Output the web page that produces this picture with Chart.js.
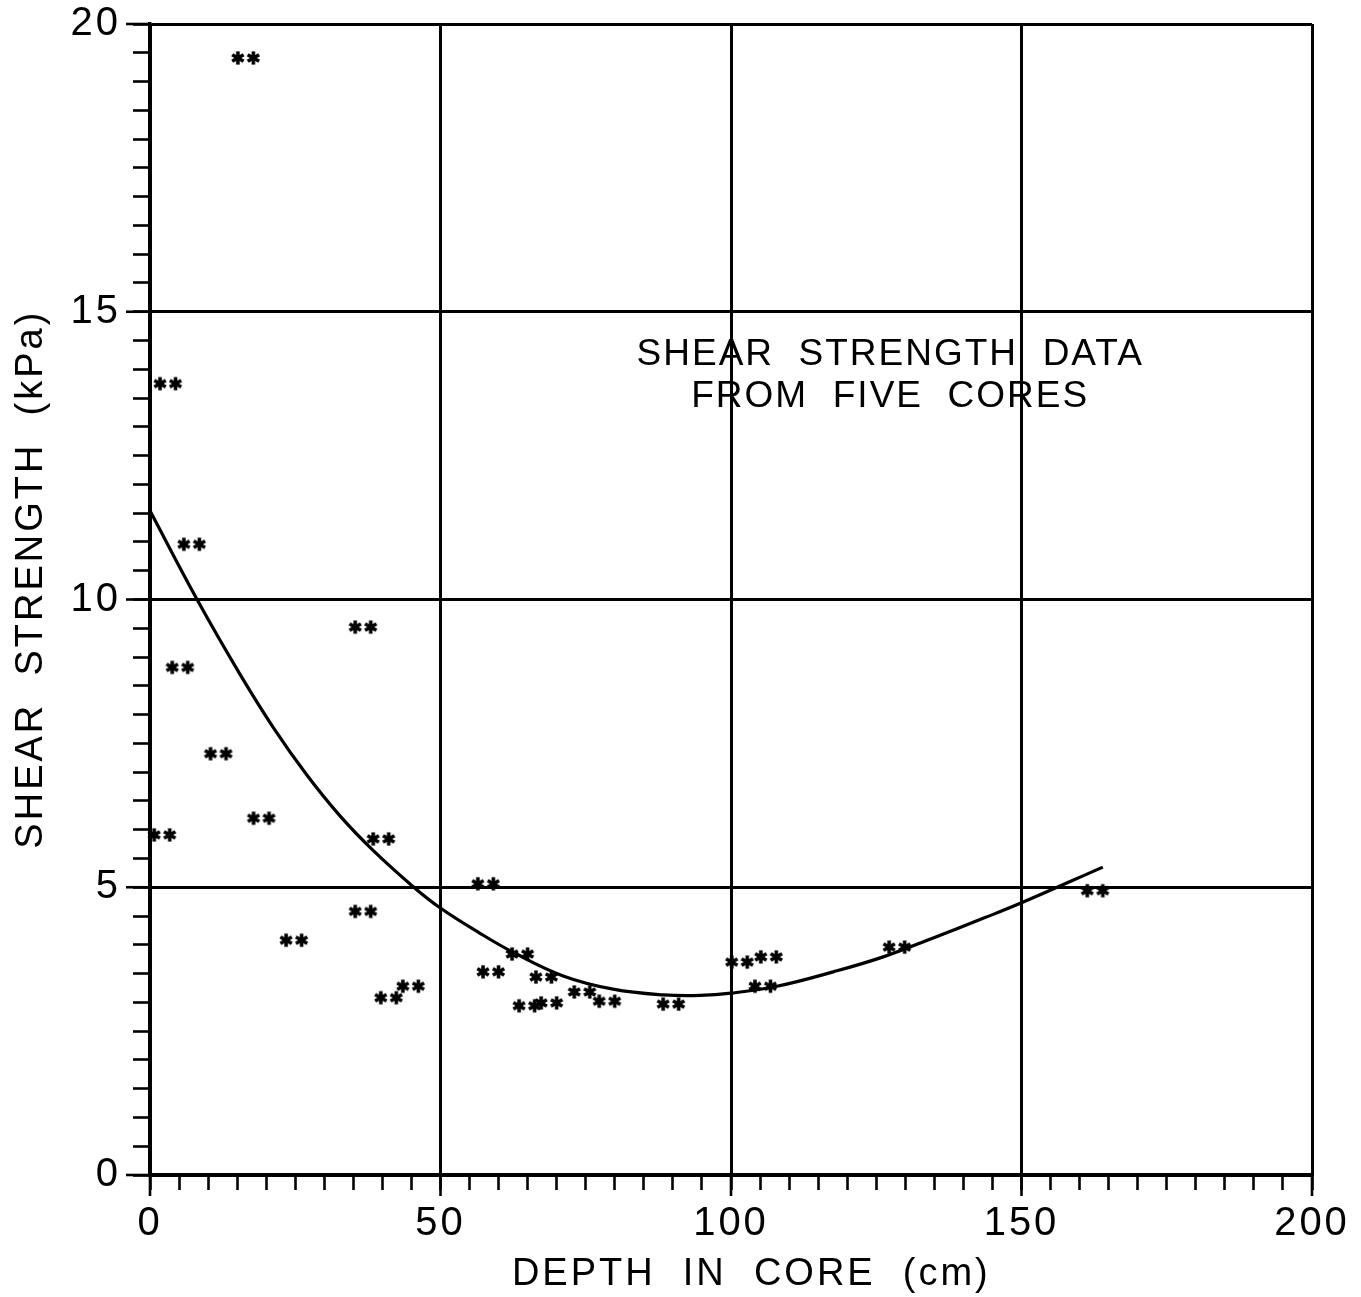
<!DOCTYPE html>
<html><head><meta charset="utf-8">
<script src="https://cdn.jsdelivr.net/npm/chart.js@4.4.1/dist/chart.umd.min.js"></script>
<style>html,body{margin:0;padding:0;background:#fff}#wrap{width:1361px;height:1297px}</style>
</head><body><div id="wrap"><canvas id="c" width="1361" height="1297"></canvas></div>
<script>
// ---- data ----
const depthCm  = [16.5, 3.1, 7.2, 5.2, 11.8, 2.1, 19.2, 36.7, 39.8, 36.7, 24.8, 41.1, 44.9, 57.8, 58.7, 63.7, 64.9, 68.7, 67.8, 74.4, 78.7, 89.7, 101.5, 106.5, 105.5, 128.6, 162.7];
const shearKPa = [19.41, 13.75, 10.96, 8.82, 7.32, 5.91, 6.20, 9.52, 5.84, 4.58, 4.08, 3.08, 3.28, 5.06, 3.53, 3.84, 2.94, 2.99, 3.44, 3.18, 3.02, 2.97, 3.70, 3.79, 3.28, 3.96, 4.94];
const fitDepthCm  = [0, 8.1, 15.5, 21.2, 27.0, 32.7, 38.4, 45.3, 50.1, 56.8, 62.5, 71.1, 79.7, 88.3, 94.7, 100, 107.9, 117.6, 126.2, 134.8, 143.4, 150, 164];
const fitShearKPa = [11.54, 10.0, 8.70, 7.78, 6.95, 6.24, 5.64, 5.01, 4.63, 4.20, 3.87, 3.46, 3.23, 3.13, 3.12, 3.16, 3.28, 3.53, 3.79, 4.12, 4.46, 4.73, 5.35];
const xTickLabels = ['0', '50', '100', '150', '200'];
const yTickLabels = ['0', '5', '10', '15', '20'];
const xTitle = '   DEPTH  IN  CORE  (cm)';
const yTitle = '   SHEAR  STRENGTH  (kPa)';
const noteLines = ['SHEAR  STRENGTH  DATA', 'FROM  FIVE  CORES'];
const noteAnchor = {x: 127.4, y: 14.25};

const FONT = "'Liberation Sans', Arial, Helvetica, sans-serif";
const isMult = (v, m) => Math.abs(v / m - Math.round(v / m)) < 1e-6;

// "**" marker
function makeMarker() {
  const c = document.createElement('canvas');
  c.width = 32; c.height = 16;
  const g = c.getContext('2d');
  g.strokeStyle = '#000'; g.fillStyle = '#000'; g.lineWidth = 3.6; g.lineCap = 'butt';
  [8, 23.5].forEach(cx => {
    for (let k = 0; k < 3; k++) {
      const a = Math.PI / 2 + k * Math.PI / 3;
      const r = 6.6;
      g.beginPath();
      g.moveTo(cx + r * Math.cos(a), 8 + r * Math.sin(a));
      g.lineTo(cx - r * Math.cos(a), 8 - r * Math.sin(a));
      g.stroke();
    }
    g.beginPath(); g.arc(cx, 8, 3.3, 0, Math.PI * 2); g.fill();
  });
  return c;
}
const marker = makeMarker();

const spacingPlugin = {
  id: 'spacing',
  beforeUpdate(c) { c.ctx.letterSpacing = '3px'; },
  beforeDraw(c) { c.ctx.letterSpacing = '3px'; }
};

const majorTicksPlugin = {
  id: 'majorTicks',
  afterDraw(c) {
    const ctx = c.ctx, a = c.chartArea;
    ctx.save();
    ctx.strokeStyle = '#000'; ctx.lineWidth = 2.6;
    const xs = c.scales.x, ys = c.scales.y;
    xs.ticks.forEach(t => {
      if (isMult(t.value, 50)) {
        const px = xs.getPixelForValue(t.value);
        ctx.beginPath(); ctx.moveTo(px, a.bottom); ctx.lineTo(px, a.bottom + 21); ctx.stroke();
      }
    });
    ys.ticks.forEach(t => {
      if (isMult(t.value, 5)) {
        const py = ys.getPixelForValue(t.value);
        ctx.beginPath(); ctx.moveTo(a.left, py); ctx.lineTo(a.left - 24, py); ctx.stroke();
      }
    });
    // annotation
    ctx.letterSpacing = '2px';
    ctx.fillStyle = '#000';
    ctx.font = '37px ' + FONT;
    ctx.textAlign = 'center'; ctx.textBaseline = 'middle';
    const nx = xs.getPixelForValue(noteAnchor.x), ny = ys.getPixelForValue(noteAnchor.y);
    noteLines.forEach((s, i) => ctx.fillText(s, nx, ny + i * 42));
    ctx.restore();
  }
};

new Chart(document.getElementById('c'), {
  type: 'scatter',
  data: {
    datasets: [
      {
        label: 'fit',
        data: fitDepthCm.map((x, i) => ({x, y: fitShearKPa[i]})),
        showLine: true, pointRadius: 0, borderColor: '#000', borderWidth: 3.2,
        tension: 0.4, clip: false
      },
      {
        label: 'data',
        data: depthCm.map((x, i) => ({x, y: shearKPa[i]})),
        pointStyle: marker, pointRadius: 8, showLine: false, clip: false
      }
    ]
  },
  options: {
    responsive: false, animation: false, devicePixelRatio: 1,
    layout: {padding: {left: 0, right: 49, top: 24, bottom: 0}},
    plugins: {legend: {display: false}, tooltip: {enabled: false}},
    scales: {
      x: {
        type: 'linear', min: 0, max: 200,
        afterFit: s => { s.height = 122; s.paddingLeft = 0; s.paddingRight = 0; },
        ticks: {
          stepSize: 5, autoSkip: false, maxRotation: 0, padding: 10, color: '#000',
          font: {family: FONT, size: 40},
          callback: v => isMult(v, 50) ? xTickLabels[Math.round(v / 50)] : ''
        },
        grid: {
          color: ctx => (ctx.tick && isMult(ctx.tick.value, 50)) ? '#000' : 'rgba(0,0,0,0)',
          lineWidth: 3, tickColor: '#000', tickLength: 15, tickWidth: 2.6
        },
        border: {display: true, color: '#000', width: 3.5},
        title: {display: true, text: xTitle, color: '#000', padding: 0,
                font: {family: FONT, size: 38, lineHeight: 1.2}}
      },
      y: {
        type: 'linear', min: 0, max: 20,
        afterFit: s => { s.width = 150; s.paddingTop = 0; s.paddingBottom = 0; },
        ticks: {
          stepSize: 0.5, autoSkip: false, padding: 12, color: '#000',
          font: {family: FONT, size: 40},
          callback: v => isMult(v, 5) ? yTickLabels[Math.round(v / 5)] : ''
        },
        grid: {
          color: ctx => (ctx.tick && isMult(ctx.tick.value, 5)) ? '#000' : 'rgba(0,0,0,0)',
          lineWidth: 3, tickColor: '#000', tickLength: 17, tickWidth: 2.6
        },
        border: {display: true, color: '#000', width: 3.5},
        title: {display: true, text: yTitle, color: '#000', padding: {top: 9, bottom: 0},
                font: {family: FONT, size: 38, lineHeight: 1.2}}
      }
    }
  },
  plugins: [spacingPlugin, majorTicksPlugin]
});
</script>
</body></html>
